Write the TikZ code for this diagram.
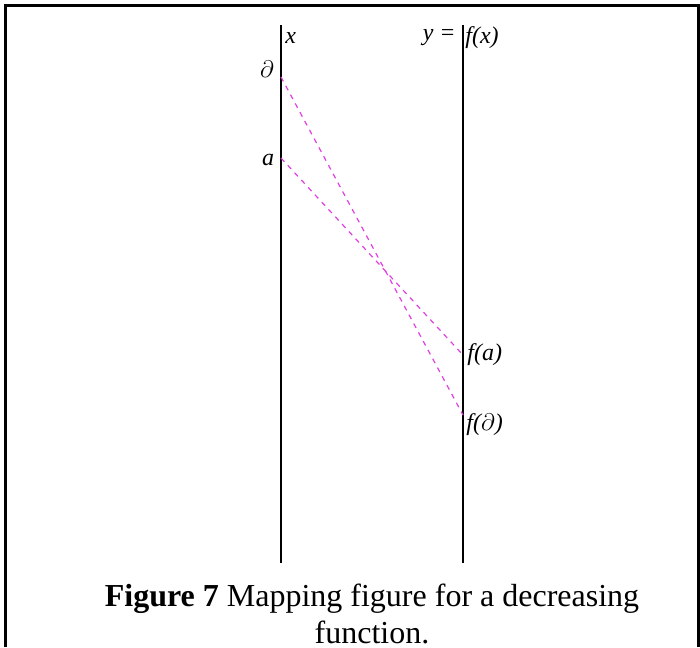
\documentclass[tikz,border=0pt]{standalone}
\usepackage{fontspec}
\setmainfont{Liberation Serif}
\definecolor{mapmag}{HTML}{E040E0}
\usetikzlibrary{positioning}

\begin{document}
\begin{tikzpicture}[x=0.5pt,y=-0.5pt,
  axis/.style={line width=1pt,black},
  frame/.style={line width=1.5pt,black},
  maparr/.style={mapmag,line width=0.6pt,dash pattern=on 2.5pt off 2.5pt},
  lab/.style={font=\itshape\fontsize{12}{14}\selectfont,inner sep=0pt},
  captext/.style={font=\fontsize{16}{19}\selectfont,inner sep=0pt,anchor=base}]
\useasboundingbox (0,0) rectangle (700,647);
\draw[frame] (5.5,647) -- (5.5,5.5) -- (698,5.5) -- (698,647);
% the two number lines
\coordinate (xtop) at (281,25);
\coordinate (xbot) at (281,563);
\coordinate (ytop) at (463,25);
\coordinate (ybot) at (463,563);
\draw[axis] (xtop) -- (xbot);
\draw[axis] (ytop) -- (ybot);
% points and their images
\coordinate (b) at (281,77);
\coordinate (a) at (281,158);
\coordinate (fa) at (463,355);
\coordinate (fb) at (463,415);
\node[lab,anchor=west] (xlab) at (285,38) {x};
\node[lab,anchor=east] (ylab) at (456,38) {y =};
\node[lab,anchor=west] (fxlab) at (465,38) {f(x)};
\node[lab] (blab) at (267,69) {$\partial$};
\node[lab] (alab) at (268,160) {a};
\node[lab,anchor=west] (falab) at (467,355) {f(a)};
\node[lab,anchor=west] (fblab) at (466,425) {f($\partial$)};
\draw[maparr] (b) -- (fb);
\draw[maparr] (a) -- (fa);
% caption
\node[captext] (cap1) at (372,606) {\textbf{Figure 7} Mapping figure for a decreasing};
\node[captext] (cap2) at (372,643) {function.};
\end{tikzpicture}
\end{document}
